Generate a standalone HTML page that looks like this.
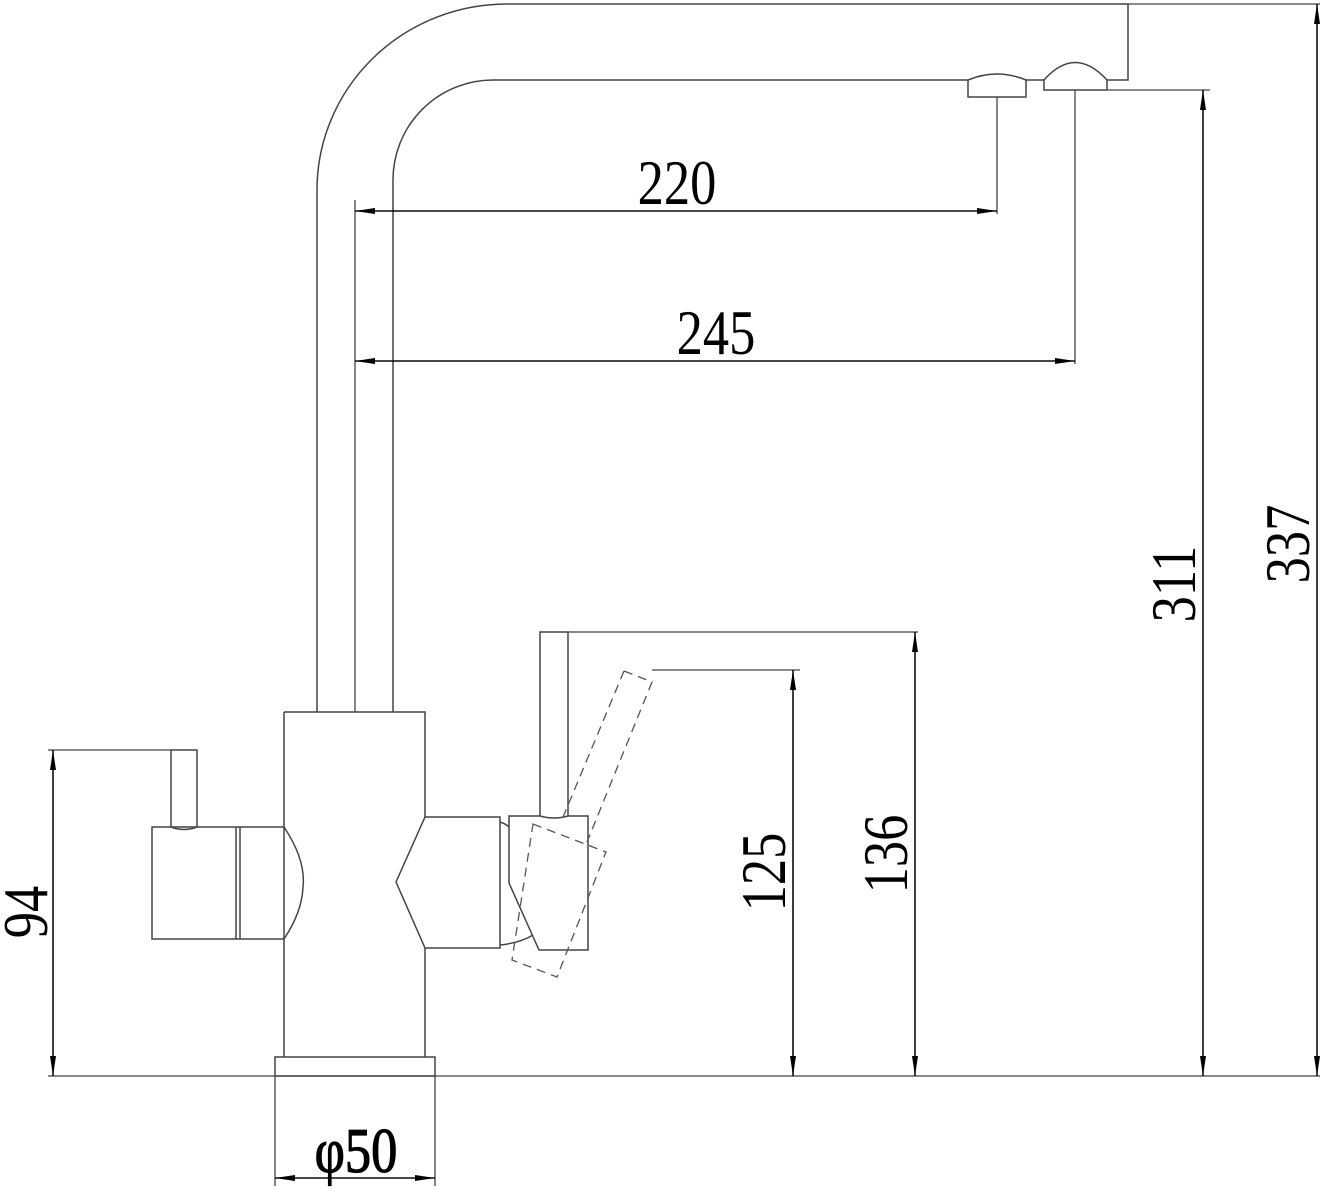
<!DOCTYPE html>
<html><head><style>
html,body{margin:0;padding:0;background:#fff;}
svg{display:block;}
text{font-family:"Liberation Serif",serif;font-size:64px;fill:#000;}
</style></head><body>
<svg width="1328" height="1192" viewBox="0 0 1328 1192" xmlns="http://www.w3.org/2000/svg">
<defs>
<marker id="a" viewBox="0 0 20 6" refX="20" refY="3" markerWidth="20" markerHeight="6" markerUnits="userSpaceOnUse" orient="auto"><path d="M0,0 L20,3 L0,6 z" fill="#000"/></marker>
</defs>
<g fill="none" stroke="#444" stroke-width="1.5">
<path d="M317,712 V190 A190,186 0 0 1 507,4 H1128 V80 H1107"/>
<path d="M393,712 V180 A100,100 0 0 1 493,80 H968"/>
<path d="M1026,80 H1044"/>
<path d="M968,97 V80 Q997,68 1026,80 V97 Z"/>
<path d="M1044,90 V80 Q1075,45 1107,80 V90 Z"/>
<path d="M284,712 H425 V817 M425,948 V1057 M284,712 V827 M284,939 V1057"/>
<rect x="275" y="1057" width="160" height="19"/>
<path d="M171,827 V750 H197 V827"/>
<path d="M171,827 Q184,832 197,827"/>
<rect x="152" y="827" width="132" height="112"/>
<path d="M236,827 V939 M240,827 V939"/>
<path d="M284,827 Q306,860 303,887 Q302,912 284,939"/>
<path d="M425,817 H500 V948 H425 L396,882 Z"/>
<path d="M500,822 Q506,824 509,827 M500,945 Q520,943 533,935"/>
<path d="M509,816 H540 Q554,820 568,816 H588 V950 H539 L509,883 Z"/>
<path d="M540,816 V632 H568 V816"/>
</g>
<g fill="none" stroke="#555" stroke-width="1.3" stroke-dasharray="9,6">
<path d="M624,671 L652,682 L587,842"/>
<path d="M624,671 L561,822"/>
<path d="M533,824 L606,852 L557,977 L512,960 Z"/>
</g>
<g fill="none" stroke="#444" stroke-width="1.3">
<path d="M48,1076 H1320"/>
<path d="M48,750 H171"/>
<path d="M1128,4 H1320"/>
<path d="M1107,90 H1210"/>
<path d="M568,632 H918"/>
<path d="M652,670 H800"/>
<path d="M355,712 V200"/>
<path d="M997,97 V214"/>
<path d="M1075,90 V364"/>
<path d="M275,1076 V1186 M435,1076 V1186"/>
</g>
<g stroke="#000" stroke-width="1.3" fill="none">
<path d="M997,211 H355" marker-end="url(#a)"/><path d="M355,211 H997" marker-end="url(#a)"/>
<path d="M1075,361 H355" marker-end="url(#a)"/><path d="M355,361 H1075" marker-end="url(#a)"/>
<path d="M53,1076 V750" marker-end="url(#a)"/><path d="M53,750 V1076" marker-end="url(#a)"/>
<path d="M793,1076 V670" marker-end="url(#a)"/><path d="M793,670 V1076" marker-end="url(#a)"/>
<path d="M915,1076 V632" marker-end="url(#a)"/><path d="M915,632 V1076" marker-end="url(#a)"/>
<path d="M1203,1076 V90" marker-end="url(#a)"/><path d="M1203,90 V1076" marker-end="url(#a)"/>
<path d="M1317,1076 V4" marker-end="url(#a)"/><path d="M1317,4 V1076" marker-end="url(#a)"/>
<path d="M435,1178 H275" marker-end="url(#a)"/><path d="M275,1178 H435" marker-end="url(#a)"/>
</g>
<g text-anchor="middle">
<text transform="translate(677,204) scale(0.82,1)">220</text>
<text transform="translate(716,354) scale(0.82,1)">245</text>
<text transform="translate(356,1172) scale(0.82,1)" stroke="#000" stroke-width="1.2">φ50</text>
<text transform="translate(47,912) rotate(-90) scale(0.82,1)">94</text>
<text transform="translate(785,872) rotate(-90) scale(0.82,1)">125</text>
<text transform="translate(907,854) rotate(-90) scale(0.82,1)">136</text>
<text transform="translate(1195,584) rotate(-90) scale(0.82,1)">311</text>
<text transform="translate(1309,544) rotate(-90) scale(0.82,1)">337</text>
</g>
</svg>
</body></html>
